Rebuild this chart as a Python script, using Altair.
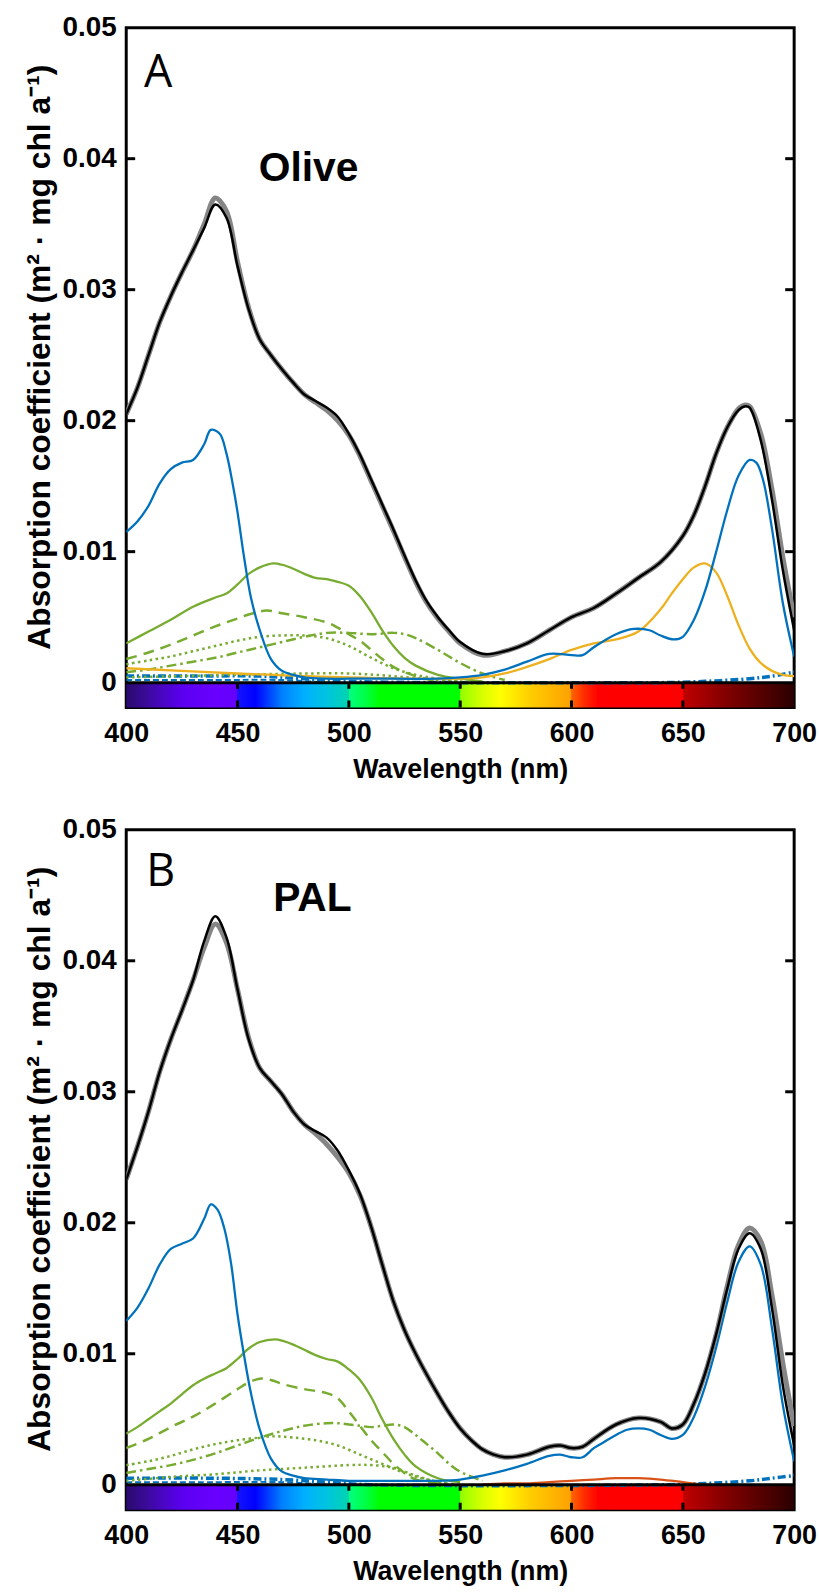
import altair as alt
import pandas as pd

# ---------------- axes / ticks ----------------
WAVE_TICKS = [400, 450, 500, 550, 600, 650, 700]
Y_TICKS = [0, 0.01, 0.02, 0.03, 0.04, 0.05]
INNER_Y_TICKS = [0.01, 0.02, 0.03, 0.04]
BAR_TICKS = [450, 500, 550, 600, 650]
Y_MIN = -0.0019
Y_TITLE = "Absorption coefficient (m² · mg chl a⁻¹)"
X_TITLE = "Wavelength (nm)"

# spectrum colour bar stops (nm, colour)
GRAD_NM = [400, 410, 425, 440, 449.9, 450, 458, 470, 480, 490, 499.9, 500, 508, 514,
           549.9, 550, 560, 568, 582, 599.9, 600, 606, 612, 649.9, 650, 670, 690, 700]
GRAD_COLORS = ["#2a0a6b", "#3d0aa0", "#5a00f0", "#6a00ff", "#6400ff", "#1414ff", "#0000ff",
               "#0080ff", "#00b0ff", "#00c4e0", "#00d4b0", "#00ff80", "#00ff40", "#00ff00",
               "#00ff00", "#90ff00", "#d8ff00", "#ffff00", "#ffcc00", "#ffa000", "#ff6400",
               "#ff2a00", "#ff0000", "#ff0000", "#c00000", "#800000", "#480000", "#2a0000"]

# ---------------- panel A (Olive) ----------------
A_tot_wl = [400, 405, 410, 415, 420, 425, 430, 435, 440, 445, 450, 455, 460, 465, 470, 475,
            480, 485, 490, 495, 500, 505, 510, 515, 520, 525, 530, 535, 540, 545, 550, 560,
            570, 580, 590, 600, 610, 620, 630, 640, 650, 655, 660, 665, 670, 675, 678, 680,
            685, 690, 695, 700]
A_black = [0.0205, 0.0225, 0.0250, 0.0275, 0.0295, 0.0313, 0.0330, 0.0347, 0.0365, 0.0355,
           0.0318, 0.0285, 0.0262, 0.0250, 0.0239, 0.0229, 0.0220, 0.0215, 0.0210, 0.0203,
           0.0190, 0.0174, 0.0155, 0.0136, 0.0117, 0.0097, 0.0078, 0.0062, 0.0050, 0.0040,
           0.0031, 0.0022, 0.0024, 0.0030, 0.0040, 0.0050, 0.0057, 0.0068, 0.0080, 0.0092,
           0.0112, 0.0128, 0.0150, 0.0175, 0.0195, 0.0208, 0.0211, 0.0210, 0.0185, 0.0140,
           0.0085, 0.0040]
A_grey = [0.0205, 0.0225, 0.0250, 0.0275, 0.0295, 0.0313, 0.0330, 0.0350, 0.0370, 0.0360,
          0.0321, 0.0286, 0.0262, 0.0250, 0.0239, 0.0229, 0.0220, 0.0214, 0.0208, 0.0200,
          0.0189, 0.0173, 0.0154, 0.0135, 0.0116, 0.0096, 0.0077, 0.0061, 0.0049, 0.0039,
          0.0030, 0.0021, 0.0024, 0.0030, 0.0040, 0.0050, 0.0057, 0.0068, 0.0080, 0.0092,
          0.0112, 0.0128, 0.0150, 0.0175, 0.0195, 0.0209, 0.0212, 0.0211, 0.0190, 0.0148,
          0.0095, 0.0050]

A_blue_wl = [400, 405, 410, 415, 420, 425, 430, 435, 438, 442, 445, 448, 450, 453, 456, 460,
             465, 470, 475, 480, 490, 500, 520, 540, 550, 560, 570, 580, 590, 600, 605, 610,
             620, 628, 635, 640, 646, 650, 655, 660, 665, 670, 675, 680, 683, 686, 690, 695, 700]
A_blue = [0.0115, 0.0123, 0.0135, 0.0152, 0.0163, 0.0168, 0.0170, 0.0182, 0.0193, 0.0190,
          0.0175, 0.0150, 0.0130, 0.0095, 0.0065, 0.0040, 0.0018, 0.0009, 0.0006, 0.0004,
          0.0003, 0.0003, 0.0003, 0.0003, 0.0004, 0.0006, 0.0010, 0.0016, 0.0022, 0.0021,
          0.0021, 0.0027, 0.0037, 0.0041, 0.0040, 0.0036, 0.0033, 0.0035, 0.0048, 0.0070,
          0.0100, 0.0132, 0.0158, 0.0170, 0.0168, 0.0155, 0.0118, 0.0060, 0.0020]

A_orange_wl = [400, 450, 500, 550, 560, 570, 580, 590, 600, 610, 620, 630, 640, 645, 650, 655,
               660, 665, 670, 675, 680, 685, 690, 695, 700]
A_orange = [0.0011, 0.0007, 0.0004, 0.0003, 0.0004, 0.0007, 0.0012, 0.0018, 0.0025, 0.0030,
            0.0033, 0.0039, 0.0056, 0.0068, 0.0079, 0.0088, 0.0091, 0.0084, 0.0066, 0.0044,
            0.0026, 0.0015, 0.0009, 0.0006, 0.0005]

A_green_wl = [400, 410, 420, 430, 440, 445, 450, 455, 460, 466, 470, 475, 480, 485, 490, 495,
              500, 505, 510, 515, 520, 525, 530, 540, 550, 560]
A_green = [0.0030, 0.0039, 0.0048, 0.0058, 0.0065, 0.0068, 0.0075, 0.0083, 0.0088, 0.0091,
           0.0090, 0.0087, 0.0083, 0.0080, 0.0079, 0.0077, 0.0074, 0.0066, 0.0054, 0.0040,
           0.0028, 0.0019, 0.0013, 0.0006, 0.0003, 0.0001]

A_gdash_wl = [400, 410, 420, 430, 440, 450, 455, 463, 470, 480, 490, 495, 500, 505, 510, 515,
              520, 525, 530, 540]
A_gdash = [0.0018, 0.0023, 0.0029, 0.0036, 0.0043, 0.0049, 0.0052, 0.0055, 0.0053, 0.0050,
           0.0046, 0.0042, 0.0037, 0.0032, 0.0025, 0.0018, 0.0012, 0.0008, 0.0005, 0.0001]

A_gdot_wl = [400, 410, 420, 430, 440, 450, 460, 470, 480, 490, 500, 510, 520, 530, 540, 550]
A_gdot = [0.0014, 0.0017, 0.0020, 0.0024, 0.0028, 0.0032, 0.0035, 0.0036, 0.0036, 0.0034,
          0.0028, 0.0019, 0.0011, 0.0006, 0.0003, 0.0001]

A_gdd_wl = [400, 410, 420, 430, 440, 450, 460, 470, 480, 490, 500, 510, 520, 525, 530, 540,
            550, 560, 570]
A_gdd = [0.0008, 0.0010, 0.0013, 0.0016, 0.0019, 0.0023, 0.0027, 0.0031, 0.0035, 0.0038,
         0.0038, 0.0037, 0.0038, 0.0037, 0.0034, 0.0025, 0.0015, 0.0007, 0.0002]

A_gdot2_wl = [400, 450, 480, 500, 520, 540, 560]
A_gdot2 = [0.0004, 0.0006, 0.0007, 0.0007, 0.0005, 0.0002, 0.0000]

A_bdd_wl = [400, 430, 460, 480, 500, 550, 600, 640, 660, 680, 690, 700]
A_bdd = [0.0005, 0.0005, 0.0005, 0.0003, 0.0001, 0.0000, 0.0000, 0.0000, 0.0001, 0.0003,
         0.0005, 0.0008]

A_bdash_wl = [400, 440, 470, 490]
A_bdash = [0.0002, 0.0002, 0.0002, 0.0000]

# ---------------- panel B (PAL) ----------------
B_tot_wl = [400, 405, 410, 415, 420, 425, 430, 435, 440, 445, 450, 455, 460, 465, 470, 475,
            480, 485, 490, 495, 500, 505, 510, 515, 520, 525, 530, 535, 540, 545, 550, 555,
            560, 565, 570, 580, 590, 595, 600, 605, 610, 620, 630, 640, 645, 650, 655, 660,
            665, 670, 675, 680, 685, 690, 695, 700]
B_black = [0.0233, 0.0258, 0.0285, 0.0315, 0.0340, 0.0362, 0.0385, 0.0415, 0.0434, 0.0418,
           0.0378, 0.0340, 0.0318, 0.0308, 0.0298, 0.0285, 0.0275, 0.0270, 0.0265, 0.0255,
           0.0240, 0.0222, 0.0197, 0.0168, 0.0140, 0.0118, 0.0100, 0.0084, 0.0069, 0.0055,
           0.0043, 0.0034, 0.0027, 0.0023, 0.0021, 0.0023, 0.0029, 0.0030, 0.0028, 0.0029,
           0.0035, 0.0046, 0.0051, 0.0048, 0.0043, 0.0046, 0.0062, 0.0085, 0.0115, 0.0150,
           0.0180, 0.0192, 0.0180, 0.0135, 0.0075, 0.0030]
B_grey = [0.0233, 0.0258, 0.0285, 0.0315, 0.0340, 0.0362, 0.0385, 0.0410, 0.0428, 0.0414,
          0.0378, 0.0341, 0.0318, 0.0308, 0.0298, 0.0285, 0.0275, 0.0268, 0.0260, 0.0250,
          0.0238, 0.0221, 0.0197, 0.0168, 0.0140, 0.0118, 0.0100, 0.0084, 0.0069, 0.0055,
          0.0043, 0.0034, 0.0027, 0.0023, 0.0021, 0.0023, 0.0029, 0.0030, 0.0028, 0.0029,
          0.0035, 0.0046, 0.0051, 0.0048, 0.0043, 0.0046, 0.0062, 0.0085, 0.0115, 0.0152,
          0.0183, 0.0196, 0.0186, 0.0145, 0.0092, 0.0045]

B_blue_wl = [400, 405, 410, 415, 420, 425, 430, 435, 438, 441, 444, 447, 450, 453, 456, 460,
             465, 470, 475, 480, 490, 500, 520, 540, 550, 560, 570, 580, 590, 595, 600, 605,
             610, 615, 620, 625, 630, 635, 640, 645, 650, 655, 660, 665, 670, 675, 680, 685,
             690, 695, 700]
B_blue = [0.0125, 0.0135, 0.0150, 0.0168, 0.0180, 0.0184, 0.0188, 0.0203, 0.0214, 0.0210,
          0.0196, 0.0170, 0.0130, 0.0098, 0.0070, 0.0042, 0.0020, 0.0010, 0.0007, 0.0005,
          0.0004, 0.0003, 0.0003, 0.0003, 0.0004, 0.0007, 0.0011, 0.0016, 0.0022, 0.0023,
          0.0021, 0.0021, 0.0028, 0.0033, 0.0038, 0.0042, 0.0043, 0.0042, 0.0038, 0.0035,
          0.0038, 0.0052, 0.0075, 0.0105, 0.0140, 0.0170, 0.0182, 0.0168, 0.0120, 0.0060,
          0.0018]

B_red_wl = [560, 570, 580, 590, 600, 610, 620, 630, 640, 650, 660, 670]
B_red = [0.0000, 0.0001, 0.0001, 0.0002, 0.0003, 0.0004, 0.0005, 0.0005, 0.0004, 0.0002,
         0.0000, 0.0000]

B_green_wl = [400, 405, 410, 415, 420, 425, 430, 435, 440, 445, 450, 455, 460, 467, 470, 475,
              480, 485, 490, 495, 500, 505, 510, 515, 520, 525, 530, 540, 550]
B_green = [0.0039, 0.0044, 0.0050, 0.0056, 0.0062, 0.0069, 0.0076, 0.0081, 0.0085, 0.0089,
           0.0096, 0.0104, 0.0109, 0.0111, 0.0110, 0.0107, 0.0103, 0.0099, 0.0096, 0.0094,
           0.0088, 0.0080, 0.0067, 0.0050, 0.0035, 0.0023, 0.0014, 0.0005, 0.0002]

B_gdash_wl = [400, 410, 420, 430, 440, 450, 455, 460, 465, 470, 480, 490, 495, 500, 505, 510,
              515, 520, 525, 530, 540]
B_gdash = [0.0028, 0.0035, 0.0044, 0.0052, 0.0062, 0.0073, 0.0078, 0.0081, 0.0080, 0.0077,
           0.0073, 0.0070, 0.0066, 0.0056, 0.0045, 0.0034, 0.0025, 0.0016, 0.0009, 0.0004,
           0.0001]

B_gdd_wl = [400, 410, 420, 430, 440, 450, 460, 470, 480, 490, 495, 500, 505, 510, 515, 520,
            525, 530, 535, 540, 545, 550, 560]
B_gdd = [0.0009, 0.0012, 0.0015, 0.0019, 0.0024, 0.0030, 0.0036, 0.0041, 0.0045, 0.0047,
         0.0047, 0.0046, 0.0045, 0.0044, 0.0045, 0.0046, 0.0044, 0.0038, 0.0031, 0.0024,
         0.0016, 0.0010, 0.0003]

B_gdot_wl = [400, 410, 420, 430, 440, 450, 460, 467, 475, 485, 495, 505, 515, 525, 535, 545]
B_gdot = [0.0015, 0.0018, 0.0022, 0.0027, 0.0031, 0.0034, 0.0036, 0.0037, 0.0036, 0.0034,
          0.0030, 0.0023, 0.0016, 0.0009, 0.0004, 0.0001]

B_gdot2_wl = [400, 420, 440, 460, 480, 500, 510, 520, 530, 540, 550]
B_gdot2 = [0.0003, 0.0006, 0.0008, 0.0011, 0.0013, 0.0015, 0.0015, 0.0013, 0.0007, 0.0002,
           0.0000]

B_bdd_wl = [400, 440, 470, 490, 510, 640, 660, 680, 690, 700]
B_bdd = [0.0005, 0.0005, 0.0004, 0.0002, 0.0000, 0.0000, 0.0001, 0.0003, 0.0005, 0.0007]

B_bdash_wl = [400, 440, 470, 490]
B_bdash = [0.0002, 0.0002, 0.0002, 0.0000]

# panel labels
LETTERS = ["A", "B"]
LETTER_WL = [408, 409]
LETTER_V = [0.0455, 0.0457]
NAMES = ["Olive", "PAL"]
NAME_WL = [459.5, 466]
NAME_V = [0.0383, 0.0438]

# ---------------- styles ----------------
STYLES = {
    "grey": dict(color="#858585", strokeWidth=5),
    "black": dict(color="#000000", strokeWidth=2.5),
    "blue": dict(color="#0072BD", strokeWidth=2.3),
    "blue_dd": dict(color="#0072BD", strokeWidth=3.5, strokeDash=[8, 3, 2, 3]),
    "blue_dash": dict(color="#0072BD", strokeWidth=2, strokeDash=[6, 3]),
    "orange": dict(color="#EDB120", strokeWidth=2.3),
    "red": dict(color="#D95319", strokeWidth=2.3),
    "green": dict(color="#77AC30", strokeWidth=2.3),
    "green_dash": dict(color="#77AC30", strokeWidth=2.5, strokeDash=[11, 7]),
    "green_dot": dict(color="#77AC30", strokeWidth=2.5, strokeDash=[2.5, 3.5]),
    "green_dd": dict(color="#77AC30", strokeWidth=2.5, strokeDash=[10, 4, 2.5, 4]),
}

FONT = "Liberation Sans"
XS = alt.Scale(domain=[400, 700], nice=False, zero=False)
YS = alt.Scale(domain=[Y_MIN, 0.05], nice=False, zero=False)
XAXIS = alt.Axis(values=WAVE_TICKS, title=X_TITLE, labelFlush=False, labelPadding=13,
                 titlePadding=10, labelFontSize=27, titleFontSize=27)
YAXIS = alt.Axis(values=Y_TICKS, format=".2~f", title=Y_TITLE, labelPadding=10,
                 titlePadding=6, labelFontSize=28, titleFontSize=32, titleY=331)

W, H = 672, 684


def xenc():
    return alt.X("wl:Q", scale=XS, axis=XAXIS)


def yenc():
    return alt.Y("v:Q", scale=YS, axis=YAXIS)


def line_layer(wl, vals, style):
    df = pd.DataFrame({"wl": wl, "v": vals})
    return alt.Chart(df).mark_line(interpolate="catmull-rom", clip=True,
                                   **STYLES[style]).encode(x=xenc(), y=yenc())


def panel(series, idx):
    grad = alt.LinearGradient(
        gradient="linear", x1=0, x2=1, y1=0, y2=0,
        stops=[alt.GradientStop(offset=(nm - 400) / 300.0, color=c)
               for nm, c in zip(GRAD_NM, GRAD_COLORS)])
    bar_df = pd.DataFrame({"wl": [WAVE_TICKS[0]], "wl2": [WAVE_TICKS[-1]],
                           "v": [Y_MIN], "v2": [0]})
    bar = alt.Chart(bar_df).mark_rect(fill=grad, strokeWidth=0).encode(
        x=xenc(), x2="wl2:Q", y=yenc(), y2="v2:Q")

    layers = [bar] + [line_layer(wl, v, s) for wl, v, s in series]

    zero = alt.Chart(pd.DataFrame({"v": [0]})).mark_rule(
        color="black", strokeWidth=3).encode(y=yenc())
    bt_df = pd.DataFrame({"wl": BAR_TICKS, "v": [Y_MIN] * len(BAR_TICKS),
                          "v2": [0] * len(BAR_TICKS)})
    bar_ticks = alt.Chart(bt_df).mark_rule(
        color="black", strokeWidth=3, strokeDash=[7, 12]).encode(
        x=xenc(), y=yenc(), y2="v2:Q")
    yt_df = pd.DataFrame({"v": INNER_Y_TICKS})
    left_ticks = alt.Chart(yt_df).mark_rule(color="black", strokeWidth=3).encode(
        y=yenc(), x=alt.value(0), x2=alt.value(9))
    right_ticks = alt.Chart(yt_df).mark_rule(color="black", strokeWidth=3).encode(
        y=yenc(), x=alt.value(W - 9), x2=alt.value(W))

    letter_df = pd.DataFrame({"wl": [LETTER_WL[idx]], "v": [LETTER_V[idx]],
                              "t": [LETTERS[idx]]})
    letter = alt.Chart(letter_df).mark_text(
        font="Open Sans", fontSize=45, align="left", baseline="alphabetic",
        color="black").encode(x=xenc(), y=yenc(), text="t:N")
    name_df = pd.DataFrame({"wl": [NAME_WL[idx]], "v": [NAME_V[idx]], "t": [NAMES[idx]]})
    name = alt.Chart(name_df).mark_text(
        font=FONT, fontSize=41, fontWeight="bold", align="left", baseline="alphabetic",
        color="black").encode(x=xenc(), y=yenc(), text="t:N")

    layers += [zero, bar_ticks, left_ticks, right_ticks, letter, name]
    return alt.layer(*layers).properties(width=W, height=H)


series_A = [
    (A_bdd_wl, A_bdd, "blue_dd"),
    (A_bdash_wl, A_bdash, "blue_dash"),
    (A_gdot2_wl, A_gdot2, "green_dot"),
    (A_gdot_wl, A_gdot, "green_dot"),
    (A_gdd_wl, A_gdd, "green_dd"),
    (A_gdash_wl, A_gdash, "green_dash"),
    (A_green_wl, A_green, "green"),
    (A_orange_wl, A_orange, "orange"),
    (A_blue_wl, A_blue, "blue"),
    (A_tot_wl, A_grey, "grey"),
    (A_tot_wl, A_black, "black"),
]
series_B = [
    (B_bdd_wl, B_bdd, "blue_dd"),
    (B_bdash_wl, B_bdash, "blue_dash"),
    (B_gdot2_wl, B_gdot2, "green_dot"),
    (B_gdot_wl, B_gdot, "green_dot"),
    (B_gdd_wl, B_gdd, "green_dd"),
    (B_gdash_wl, B_gdash, "green_dash"),
    (B_green_wl, B_green, "green"),
    (B_red_wl, B_red, "red"),
    (B_blue_wl, B_blue, "blue"),
    (B_tot_wl, B_grey, "grey"),
    (B_tot_wl, B_black, "black"),
]

chart = alt.vconcat(panel(series_A, 0), panel(series_B, 1), spacing=30).properties(
    padding={"left": 22, "top": 7, "right": 0, "bottom": 2},
    background="white",
).configure_view(stroke="black", strokeWidth=3).configure_axis(
    labelFont=FONT, titleFont=FONT, labelFontWeight="bold", titleFontWeight="bold",
    labelColor="black", titleColor="black", ticks=False, domain=False, grid=False,
)

chart.save("out.html", embed_options={"renderer": "svg", "actions": False})
